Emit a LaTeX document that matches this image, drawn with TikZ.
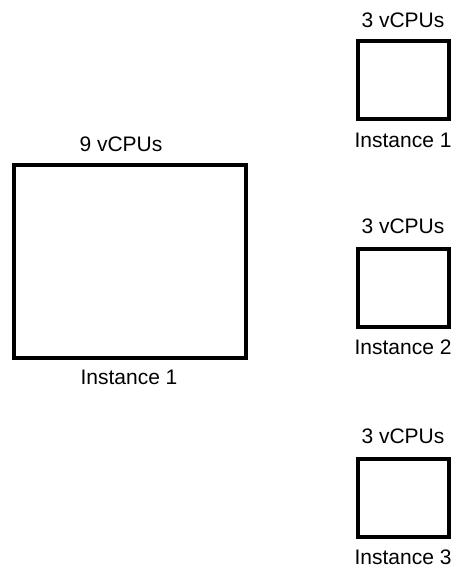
\documentclass[tikz,border=0pt]{standalone}
\usepackage{fontspec}
\setmainfont{Liberation Sans}
\usetikzlibrary{positioning}

\begin{document}
\begin{tikzpicture}[x=1pt, y=-1pt,
    vm/.style={rectangle, draw=black, line width=4pt, fill=white},
    bigvm/.style={vm, minimum width=232pt, minimum height=193pt},
    smallvm/.style={vm, minimum width=91pt, minimum height=78pt},
    lbl/.style={font=\fontsize{21}{25}\selectfont, inner sep=0pt}
]
\useasboundingbox (0,0) rectangle (456,572);

% one large instance - left
\node[bigvm] (big) at (129.5, 261.5) {};
\node[lbl] (bigcpu) at (121, 144) {9 vCPUs};
\node[lbl] (bigname) at (129, 377) {Instance 1};

% three small instances - right column
\node[smallvm] (small1) at (403, 80.5) {};
\node[lbl] (cpu1) at (403, 20) {3 vCPUs};
\node[lbl] (name1) at (403, 140) {Instance 1};

\node[smallvm] (small2) at (403, 287.5) {};
\node[lbl] (cpu2) at (403, 226) {3 vCPUs};
\node[lbl] (name2) at (403, 347) {Instance 2};

\node[smallvm] (small3) at (403, 497.5) {};
\node[lbl] (cpu3) at (403, 436) {3 vCPUs};
\node[lbl] (name3) at (403, 557) {Instance 3};

\end{tikzpicture}
\end{document}
